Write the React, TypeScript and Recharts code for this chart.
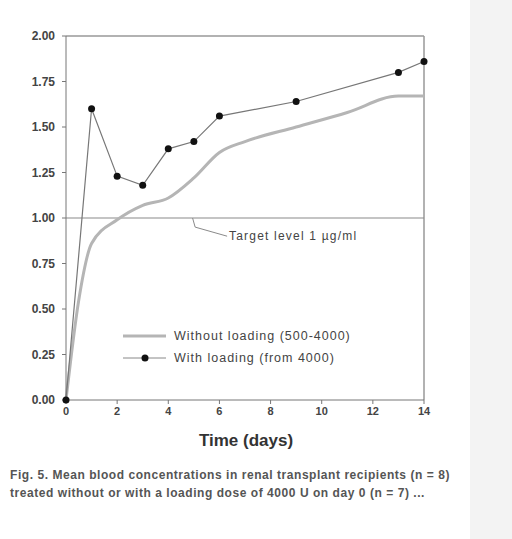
import React from "react";
import {
  LineChart,
  Line,
  XAxis,
  YAxis,
  ReferenceLine,
} from "recharts";

const withoutLoadingDays = [0, 0.5, 1, 2, 3, 4, 5, 6, 7, 9, 11, 13, 14];
const withoutLoadingValues = [0, 0.55, 0.86, 0.99, 1.07, 1.11, 1.22, 1.36, 1.42, 1.5, 1.58, 1.67, 1.67];

const withLoadingDays = [0, 1, 2, 3, 4, 5, 6, 9, 13, 14];
const withLoadingValues = [0, 1.6, 1.23, 1.18, 1.38, 1.42, 1.56, 1.64, 1.8, 1.86];

const xTicks = [0, 2, 4, 6, 8, 10, 12, 14];
const yTicks = [0, 0.25, 0.5, 0.75, 1.0, 1.25, 1.5, 1.75, 2.0];

const targetLevel = 1.0;

const seriesNames = ["Without loading (500-4000)", "With loading (from 4000)"];
const targetLabel = "Target level 1 \u00b5g/ml";
const xTitle = "Time (days)";
const captionLines = [
  "Fig. 5. Mean blood concentrations in renal transplant recipients (n = 8)",
  "treated without or with a loading dose of 4000 U on day 0 (n = 7) ...",
];

const withoutData = withoutLoadingDays.map((d, i) => ({ day: d, value: withoutLoadingValues[i] }));
const withData = withLoadingDays.map((d, i) => ({ day: d, value: withLoadingValues[i] }));

const font = "'Liberation Sans', Arial, sans-serif";

export default function App() {
  return (
    <div
      style={{
        position: "absolute",
        left: 0,
        top: 0,
        width: 512,
        height: 539,
        background: "#ffffff",
        overflow: "hidden",
      }}
    >
      <div style={{ position: "absolute", left: 470, top: 0, width: 42, height: 539, background: "#f3f3f3" }} />
      <LineChart
        width={512}
        height={539}
        margin={{ top: 36, right: 88, left: 0, bottom: 109 }}
      >
        <XAxis
          dataKey="day"
          type="number"
          domain={[0, 14]}
          ticks={xTicks}
          allowDuplicatedCategory={false}
          height={30}
          tickSize={4}
          tickMargin={3}
          stroke="#777"
          tick={{ fill: "#444", fontSize: 11, fontFamily: font, fontWeight: 700 }}
        />
        <YAxis
          type="number"
          domain={[0, 2]}
          ticks={yTicks}
          width={66}
          tickSize={4}
          tickMargin={7}
          stroke="#777"
          tickFormatter={(v: number) => v.toFixed(2)}
          tick={{ fill: "#444", fontSize: 12, fontFamily: font, fontWeight: 700 }}
        />
        <ReferenceLine y={2} stroke="#999" strokeWidth={1.5} />
        <ReferenceLine x={14} stroke="#999" strokeWidth={1.5} />
        <ReferenceLine y={targetLevel} stroke="#8a8a8a" strokeWidth={1.2} />
        <ReferenceLine
          segment={[
            { x: 4.95, y: 1.0 },
            { x: 5.05, y: 0.95 },
          ]}
          stroke="#8a8a8a"
          strokeWidth={1}
        />
        <ReferenceLine
          segment={[
            { x: 5.05, y: 0.95 },
            { x: 6.3, y: 0.9 },
          ]}
          stroke="#8a8a8a"
          strokeWidth={1}
        />
        <Line
          data={withoutData}
          dataKey="value"
          type="monotone"
          stroke="#b5b5b5"
          strokeWidth={3}
          dot={false}
          isAnimationActive={false}
        />
        <Line
          data={withData}
          dataKey="value"
          type="linear"
          stroke="#777"
          strokeWidth={1.2}
          dot={{ r: 3.5, fill: "#111", stroke: "#111", strokeWidth: 0 }}
          isAnimationActive={false}
        />
      </LineChart>
      <div
        style={{
          position: "absolute",
          left: 120,
          top: 325,
          fontFamily: font,
          fontSize: 12.5,
          letterSpacing: 1,
          color: "#444",
          lineHeight: "22px",
          whiteSpace: "nowrap",
        }}
      >
        <div style={{ display: "flex", alignItems: "center" }}>
          <svg width={48} height={10}>
            <line x1={3} y1={5} x2={46} y2={5} stroke="#b5b5b5" strokeWidth={3} />
          </svg>
          <span style={{ marginLeft: 6 }}>{seriesNames[0]}</span>
        </div>
        <div style={{ display: "flex", alignItems: "center" }}>
          <svg width={48} height={10}>
            <line x1={3} y1={5} x2={46} y2={5} stroke="#888" strokeWidth={1} />
            <circle cx={25} cy={5} r={3.5} fill="#111" />
          </svg>
          <span style={{ marginLeft: 6 }}>{seriesNames[1]}</span>
        </div>
      </div>
      <div
        style={{
          position: "absolute",
          left: 229,
          top: 229,
          fontFamily: font,
          fontSize: 12,
          letterSpacing: 1.2,
          color: "#444",
          whiteSpace: "nowrap",
        }}
      >
        {targetLabel}
      </div>
      <div
        style={{
          position: "absolute",
          left: 0,
          width: 492,
          top: 431,
          textAlign: "center",
          fontFamily: font,
          fontSize: 17,
          fontWeight: 700,
          color: "#333",
        }}
      >
        {xTitle}
      </div>
      <div
        style={{
          position: "absolute",
          left: 10,
          top: 466,
          fontFamily: font,
          fontSize: 12,
          fontWeight: 700,
          color: "#555",
          lineHeight: "18px",
          whiteSpace: "nowrap",
          letterSpacing: 0.55,
        }}
      >
        {captionLines.map((l, i) => (
          <div key={i}>{l}</div>
        ))}
      </div>
    </div>
  );
}
